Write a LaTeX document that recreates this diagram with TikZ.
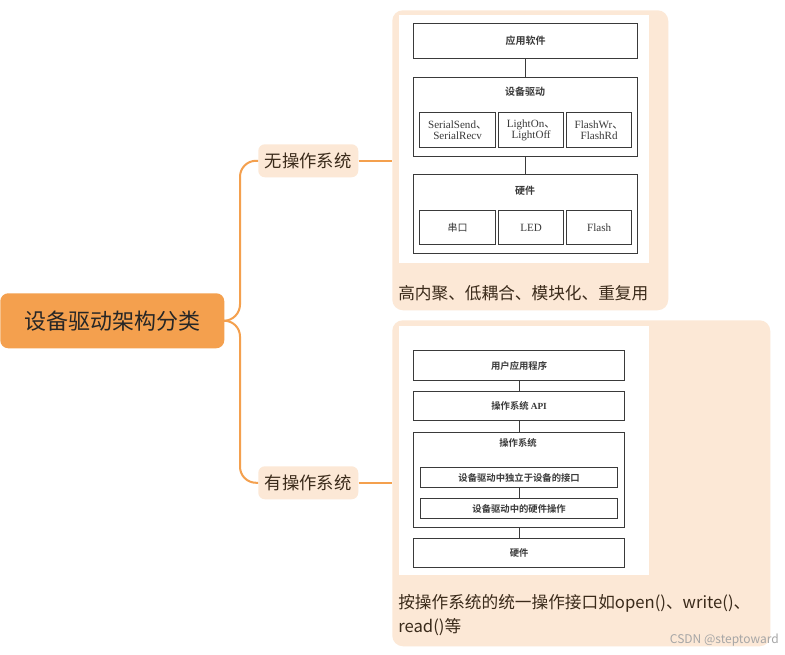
\documentclass[tikz,border=0pt]{standalone}
\usepackage{fontspec}
\setmainfont{Noto Sans CJK SC}
\newfontfamily\imgfont{Noto Sans CJK SC}[BoldFont={Noto Sans CJK SC Bold}]
\newfontfamily\latserif{Liberation Serif}
\definecolor{orng}{HTML}{F4A04E}
\definecolor{peach}{HTML}{FCE8D6}
\definecolor{txt}{HTML}{3A2A1A}
\definecolor{ln}{HTML}{3A3A3A}
\newcommand{\fs}[1]{\fontsize{#1}{#1}\selectfont}
\newcommand{\dun}{{\imgfont 、}}
\begin{document}
\begin{tikzpicture}[x=0.75pt,y=-0.75pt,
  pbox/.style={inner sep=0pt,anchor=north west},
  ibox/.style={pbox,draw=ln,line width=0.9pt,fill=white},
  ilbl/.style={inner sep=0pt,font=\imgfont\fs{7.5}\bfseries,text=ln},
  slbl/.style={inner sep=0pt,font=\latserif\fs{8.3},text=ln,align=center},
  conn/.style={ln,line width=0.9pt},
  oconn/.style={orng,line width=1.5pt}]
\useasboundingbox (0,0) rectangle (785,654);
\fill[white] (0,0) rectangle (785,654);
% root
\node[pbox,fill=orng,rounded corners=6pt,minimum width={224*0.75pt},minimum height={55*0.75pt},font=\fs{16.5},text=black!85] (root) at (0,293) {设备驱动架构分类};
% children
\node[pbox,fill=peach,rounded corners=5pt,minimum width={100*0.75pt},minimum height={33*0.75pt},font=\fs{13},text=txt] (c1) at (258,144) {无操作系统};
\node[pbox,fill=peach,rounded corners=5pt,minimum width={100*0.75pt},minimum height={33*0.75pt},font=\fs{13},text=txt] (c2) at (258,466) {有操作系统};
\draw[oconn,rounded corners=12pt] (root.east) -- (240,320.5) |- (c1.west);
\draw[oconn,rounded corners=12pt] (root.east) -- (240,320.5) |- (c2.west);
% cards
\node[pbox,fill=peach,rounded corners=8pt,minimum width={276*0.75pt},minimum height={300*0.75pt}] (card1) at (392,10) {};
\node[pbox,fill=peach,rounded corners=8pt,minimum width={378*0.75pt},minimum height={326*0.75pt}] (card2) at (392,320) {};
\draw[oconn] (c1.east) -- (card1.west |- c1.east);
\draw[oconn] (c2.east) -- (card2.west |- c2.east);
\node[pbox,fill=white,minimum width={250*0.75pt},minimum height={248*0.75pt}] (img1) at (399,15) {};
\node[pbox,fill=white,minimum width={250*0.75pt},minimum height={249*0.75pt}] (img2) at (399,326) {};
\node[inner sep=0pt,anchor=west,font=\fs{12.5},text=txt] (t1) at (398,293) {高内聚、低耦合、模块化、重复用};
\node[inner sep=0pt,anchor=west,font=\fs{12.5},text=txt] (t2) at (398,603) {按操作系统的统一操作接口如open()、write()、};
\node[inner sep=0pt,anchor=west,font=\fs{12.5},text=txt] (t3) at (398,627) {read()等};
\node[inner sep=0pt,anchor=east,font=\fs{9},text=black!35] (wm) at (779,640) {CSDN @steptoward};
% image 1
\node[ibox,minimum width={224*0.75pt},minimum height={35*0.75pt}] (app) at (413,23) {};
\node[ilbl] at (app.center) {应用软件};
\node[ibox,minimum width={224*0.75pt},minimum height={79*0.75pt}] (drv) at (413,77) {};
\node[ilbl] at (525,92) {设备驱动};
\node[ibox,minimum width={76*0.75pt},minimum height={35*0.75pt}] (s1) at (419,112) {};
\node[slbl] at (s1.center) {SerialSend\dun\\SerialRecv};
\node[ibox,minimum width={65*0.75pt},minimum height={35*0.75pt}] (s2) at (498,112) {};
\node[slbl] at (s2.center) {LightOn\dun\\LightOff};
\node[ibox,minimum width={65*0.75pt},minimum height={35*0.75pt}] (s3) at (566,112) {};
\node[slbl] at (s3.center) {FlashWr\dun\\FlashRd};
\node[ibox,minimum width={224*0.75pt},minimum height={79*0.75pt}] (hw) at (413,174) {};
\node[ilbl] at (525,191) {硬件};
\node[ibox,minimum width={76*0.75pt},minimum height={34*0.75pt}] (h1) at (419,210) {};
\node[ilbl,font=\imgfont\fs{7.5}] at (h1.center) {串口};
\node[ibox,minimum width={65*0.75pt},minimum height={34*0.75pt}] (h2) at (498,210) {};
\node[slbl] at (h2.center) {LED};
\node[ibox,minimum width={65*0.75pt},minimum height={34*0.75pt}] (h3) at (566,210) {};
\node[slbl] at (h3.center) {Flash};
\draw[conn] (app.south) -- (drv.north);
\draw[conn] (drv.south) -- (hw.north);
% image 2
\node[ibox,minimum width={211*0.75pt},minimum height={30*0.75pt}] (ua) at (413,350) {};
\node[ilbl,font=\imgfont\fs{7}\bfseries] at (ua.center) {用户应用程序};
\node[ibox,minimum width={211*0.75pt},minimum height={29*0.75pt}] (api) at (413,391) {};
\node[ilbl,font=\imgfont\fs{7}\bfseries] at (api.center) {操作系统 {\latserif API}};
\node[ibox,minimum width={211*0.75pt},minimum height={95*0.75pt}] (os) at (413,432) {};
\node[ilbl,font=\imgfont\fs{7}\bfseries] at (518,443) {操作系统};
\node[ibox,minimum width={197*0.75pt},minimum height={20*0.75pt}] (if1) at (420,467) {};
\node[ilbl,font=\imgfont\fs{7}\bfseries] at (if1.center) {设备驱动中独立于设备的接口};
\node[ibox,minimum width={197*0.75pt},minimum height={20*0.75pt}] (if2) at (420,498) {};
\node[ilbl,font=\imgfont\fs{7}\bfseries] at (if2.center) {设备驱动中的硬件操作};
\node[ibox,minimum width={211*0.75pt},minimum height={29*0.75pt}] (hw2) at (413,538) {};
\node[ilbl,font=\imgfont\fs{7}\bfseries] at (hw2.center) {硬件};
\draw[conn] (ua.south) -- (api.north);
\draw[conn] (api.south) -- (os.north);
\draw[conn] (if1.south) -- (if2.north);
\draw[conn] (os.south) -- (hw2.north);
\end{tikzpicture}
\end{document}
